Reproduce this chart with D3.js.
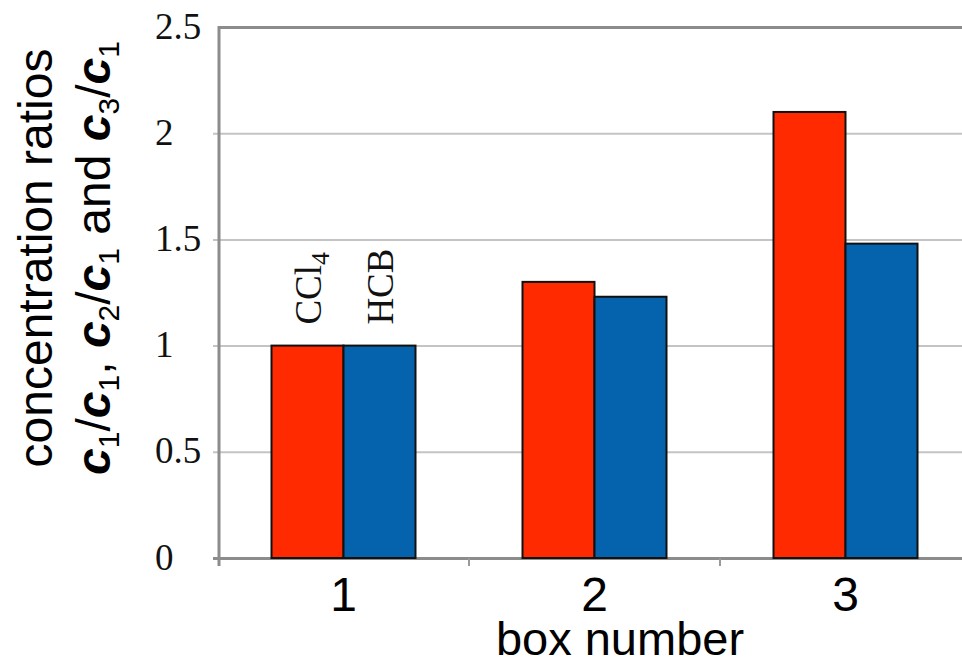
<!DOCTYPE html>
<html>
<head>
<meta charset="utf-8">
<script src="https://cdn.jsdelivr.net/npm/d3@7"></script>
<style>
  html, body { margin: 0; padding: 0; background: #fff; }
  svg { display: block; }
</style>
</head>
<body>
<svg id="chart" width="962" height="666"></svg>
<script>
// ---- data ----
const categories = ["1", "2", "3"];
const seriesNames = ["CCl4", "HCB"];
const ccl4Values = [1.0, 1.3, 2.1];
const hcbValues = [1.0, 1.23, 1.48];
const yTickValues = [0, 0.5, 1, 1.5, 2, 2.5];
const yTickLabels = ["0", "0.5", "1", "1.5", "2", "2.5"];
const xTitle = "box number";

// ---- layout ----
const svg = d3.select("#chart");
const plotLeft = 219, plotRight = 971, plotTop = 27, plotBottom = 558;
const colors = { CCl4: "#ff2a00", HCB: "#0563ad" };

const y = d3.scaleLinear().domain([0, 2.5]).range([plotBottom, plotTop]);
const x = d3.scaleBand().domain(categories).range([plotLeft - 1, plotRight]).padding(0);
const groupWidth = 144;
const xSub = d3.scaleBand().domain(seriesNames).range([0, groupWidth]).padding(0);
const groupOffset = (x.bandwidth() - groupWidth) / 2;

// ---- y axis with gridlines ----
const yAxis = d3.axisLeft(y)
  .tickValues(yTickValues)
  .tickFormat((d, i) => yTickLabels[i])
  .tickSizeInner(-(plotRight - 213 + 10))
  .tickSizeOuter(0)
  .tickPadding(0);

const gy = svg.append("g").attr("transform", "translate(213,0)").call(yAxis);
gy.select(".domain").remove();
gy.selectAll(".tick line")
  .attr("stroke", d => (d === 0 || d === 2.5) ? "#8c8c8c" : "#c4c4c4")
  .attr("stroke-width", d => (d === 0 || d === 2.5) ? 3 : 2)
  .attr("x1", d => d === 2.5 ? 5 : 0);
gy.selectAll(".tick text")
  .attr("x", 155 - 213)
  .attr("dy", null)
  .attr("y", 11)
  .attr("text-anchor", "start")
  .attr("fill", "#111")
  .style("font-family", "'Liberation Serif', 'DejaVu Serif', serif")
  .style("font-size", "37px");

// ---- bars ----
const rows = categories.map((c, i) => ({ cat: c, values: [
  { key: "CCl4", value: ccl4Values[i] },
  { key: "HCB", value: hcbValues[i] }
]}));

const groups = svg.append("g").selectAll("g.grp")
  .data(rows).join("g")
  .attr("class", "grp")
  .attr("transform", d => `translate(${x(d.cat) + groupOffset},0)`);

groups.selectAll("rect")
  .data(d => d.values).join("rect")
  .attr("x", d => xSub(d.key))
  .attr("width", xSub.bandwidth())
  .attr("y", d => y(d.value))
  .attr("height", d => y(0) - y(d.value))
  .attr("fill", d => colors[d.key])
  .attr("stroke", "#111")
  .attr("stroke-width", 2);

// series labels over the first group
const lab = svg.append("g")
  .attr("transform", `translate(${x(categories[0]) + groupOffset},0)`);
const labelFont = "'Liberation Serif', 'DejaVu Serif', serif";
rows[0].values.forEach(v => {
  const cx = xSub(v.key) + xSub.bandwidth() / 2 + 13;
  const cy = y(v.value) - 21;
  const t = lab.append("text")
    .attr("transform", `translate(${cx},${cy}) rotate(-90)`)
    .attr("fill", "#111")
    .style("font-family", labelFont)
    .style("font-size", "37px");
  if (v.key === "CCl4") {
    t.append("tspan").text("CCl");
    t.append("tspan").attr("dy", 8).style("font-size", "26px").text("4");
  } else {
    t.text(v.key);
  }
});

// ---- x axis ----
const xAxis = d3.axisBottom(x).tickSize(0).tickPadding(0);
const gx = svg.append("g").attr("transform", `translate(0,${plotBottom})`).call(xAxis);
gx.select(".domain").remove();
gx.selectAll(".tick text")
  .attr("y", 53)
  .attr("dy", null)
  .attr("fill", "#000")
  .style("font-family", "'Liberation Sans', Arial, sans-serif")
  .style("font-size", "48px");

// category boundary ticks
svg.append("g").selectAll("line")
  .data(categories.slice(1))
  .join("line")
  .attr("x1", d => x(d)).attr("x2", d => x(d))
  .attr("y1", plotBottom).attr("y2", plotBottom + 8)
  .attr("stroke", "#9a9a9a").attr("stroke-width", 2);

// left axis line
svg.append("line")
  .attr("x1", plotLeft).attr("x2", plotLeft)
  .attr("y1", plotTop - 1).attr("y2", plotBottom + 8)
  .attr("stroke", "#8c8c8c").attr("stroke-width", 3);

// x title
svg.append("text")
  .attr("x", 620).attr("y", 655)
  .attr("text-anchor", "middle")
  .attr("fill", "#000")
  .style("font-family", "'Liberation Sans', Arial, sans-serif")
  .style("font-size", "47px")
  .text(xTitle);

// y title (two lines)
const sans = "'Liberation Sans', Arial, sans-serif";
svg.append("text")
  .attr("transform", "translate(52,258) rotate(-90)")
  .attr("text-anchor", "middle")
  .attr("fill", "#000")
  .style("font-family", sans)
  .style("font-size", "48px")
  .text("concentration ratios");

const t2 = svg.append("text")
  .attr("transform", "translate(110,258) rotate(-90)")
  .attr("text-anchor", "middle")
  .attr("fill", "#000")
  .style("font-family", sans)
  .style("font-size", "48px");
const parts = [
  ["c", "1", "/"], ["c", "1", ", "], ["c", "2", "/"], ["c", "1", " and "], ["c", "3", "/"], ["c", "1", null]
];
parts.forEach(([c, sub, after]) => {
  t2.append("tspan").style("font-weight", "bold").style("font-style", "italic").text(c);
  t2.append("tspan").attr("dy", 9).style("font-size", "30px").text(sub);
  if (after !== null) {
    t2.append("tspan").attr("dy", -9).text(after);
  }
});
</script>
</body>
</html>
